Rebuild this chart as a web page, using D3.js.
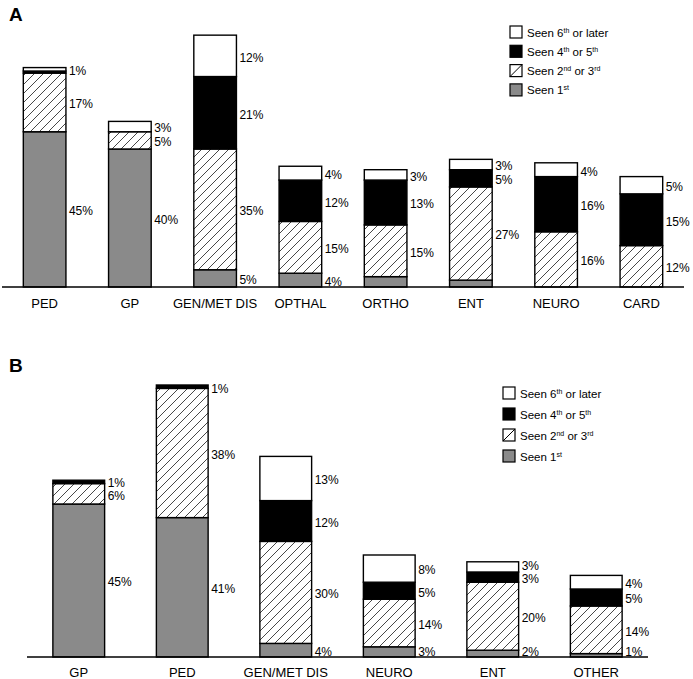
<!DOCTYPE html>
<html><head><meta charset="utf-8">
<script src="https://cdn.jsdelivr.net/npm/d3@7"></script>
<style>body{margin:0;background:#fff;} svg{display:block;font-family:Arial,"Liberation Sans",sans-serif;}</style>
</head><body>
<script>
// Panel A data
const catsA = ["PED","GP","GEN/MET DIS","OPTHAL","ORTHO","ENT","NEURO","CARD"];
const seen1stA   = [45, 40, 5, 4, 3, 2, 0, 0];
const seen2nd3rdA = [17, 5, 35, 15, 15, 27, 16, 12];
const seen4th5thA = [0.6, 0, 21, 12, 13, 5, 16, 15];
const seen6thA   = [1, 3, 12, 4, 3, 3, 4, 5];
const labels1stA = ["45%","40%","5%","4%","","","",""];
const labels2ndA = ["17%","5%","35%","15%","15%","27%","16%","12%"];
const labels4thA = ["","","21%","12%","13%","5%","16%","15%"];
const labels6thA = ["1%","3%","12%","4%","3%","3%","4%","5%"];

// Panel B data
const catsB = ["GP","PED","GEN/MET DIS","NEURO","ENT","OTHER"];
const seen1stB   = [45, 41, 4, 3, 2, 1];
const seen2nd3rdB = [6, 38, 30, 14, 20, 14];
const seen4th5thB = [1, 1, 12, 5, 3, 5];
const seen6thB   = [0, 0, 13, 8, 3, 4];
const labels1stB = ["45%","41%","4%","3%","2%","1%"];
const labels2ndB = ["6%","38%","30%","14%","20%","14%"];
const labels4thB = ["1%","1%","12%","5%","3%","5%"];
const labels6thB = ["","","13%","8%","3%","4%"];

const yMax = 80;

const svg = d3.select("body").append("svg").attr("width",693).attr("height",679);
const defs = svg.append("defs");
const pat = defs.append("pattern").attr("id","hatch").attr("patternUnits","userSpaceOnUse")
  .attr("width",9).attr("height",9);
pat.append("rect").attr("width",9).attr("height",9).attr("fill","#fff");
pat.append("path").attr("d","M0,9 L9,0 M-3,3 L3,-3 M6,12 L12,6")
  .attr("stroke","#333").attr("stroke-width",0.9);

const fills = ["#8a8a8a","url(#hatch)","#000","#fff"];

function panel(cfg){
  const {cats, series, labels, xRange, base, top, letterPos, legendPos, legendPitch, catY} = cfg;
  const x = d3.scaleBand().domain(cats).range(xRange).paddingInner(0.5).paddingOuter(0.25);
  const y = d3.scaleLinear().domain([0,yMax]).range([base, top]);
  const g = svg.append("g");
  cats.forEach((c,i)=>{
    let cum = 0;
    const labs = [];
    series.forEach((s,k)=>{
      const v = s[i];
      if (v <= 0) return;
      const y0 = y(cum), y1 = y(cum+v);
      g.append("rect").attr("x",x(c)).attr("y",y1).attr("width",x.bandwidth()).attr("height",y0-y1)
        .attr("fill",fills[k]).attr("stroke","#000").attr("stroke-width",1.4);
      if (labels[k][i]) labs.push({t:labels[k][i], y:Math.min((y0+y1)/2 + 1.5, base - 5.5)});
      cum += v;
    });
    labs.sort((a,b)=>b.y-a.y); // bottom to top
    for (let j=1;j<labs.length;j++){ if (labs[j-1].y - labs[j].y < 12.5) labs[j].y = labs[j-1].y - 12.5; }
    labs.forEach(l=>{
      g.append("text").attr("x",x(c)+x.bandwidth()+3).attr("y",l.y).attr("dy","0.36em")
        .attr("font-size",12).attr("fill","#000").text(l.t);
    });
  });
  g.append("line").attr("x1",xRange[0]).attr("x2",xRange[1]).attr("y1",base).attr("y2",base)
    .attr("stroke","#000").attr("stroke-width",1.5);
  const ax = d3.axisBottom(x).tickSize(0).tickPadding(0);
  const axg = g.append("g").attr("transform",`translate(0,${catY})`).call(ax);
  axg.select(".domain").remove();
  axg.selectAll("text").attr("font-size",13).attr("font-family","Arial,'Liberation Sans',sans-serif").attr("fill","#000").attr("dy","0.35em").attr("y",0);
  g.append("text").attr("x",letterPos[0]).attr("y",letterPos[1]).attr("font-size",19).attr("font-weight","bold").text(cfg.letter);
  const items = [
    {f:"#fff", parts:[["Seen 6",""],["th","sup"],[" or later",""]]},
    {f:"#000", parts:[["Seen 4",""],["th","sup"],[" or 5",""],["th","sup"]]},
    {f:"hatchbox", parts:[["Seen 2",""],["nd","sup"],[" or 3",""],["rd","sup"]]},
    {f:"#8a8a8a", parts:[["Seen 1",""],["st","sup"]]}
  ];
  items.forEach((it,j)=>{
    const ly = legendPos[1] + j*legendPitch;
    const lg = g.append("g").attr("transform",`translate(${legendPos[0]},${ly})`);
    lg.append("rect").attr("width",12).attr("height",12).attr("fill", it.f==="hatchbox"?"#fff":it.f)
      .attr("stroke","#000").attr("stroke-width",1.2);
    if (it.f==="hatchbox") lg.append("line").attr("x1",0).attr("y1",12).attr("x2",12).attr("y2",0).attr("stroke","#000").attr("stroke-width",1);
    const t = lg.append("text").attr("x",17).attr("y",10.5).attr("font-size",11.5).attr("fill","#000");
    let raised = false;
    it.parts.forEach(p=>{
      if (p[1]==="sup") { t.append("tspan").attr("font-size",7).attr("dy", raised?0:-4).text(p[0]); raised = true; }
      else { t.append("tspan").attr("dy", raised?4:0).text(p[0]); raised = false; }
    });
  });
}

panel({cats:catsA, series:[seen1stA,seen2nd3rdA,seen4th5thA,seen6thA],
  labels:[labels1stA,labels2ndA,labels4thA,labels6thA],
  xRange:[2,684], base:287, top:287-yMax*3.45, letter:"A", letterPos:[9,21],
  legendPos:[510,26], legendPitch:19.3, catY:303});
panel({cats:catsB, series:[seen1stB,seen2nd3rdB,seen4th5thB,seen6thB],
  labels:[labels1stB,labels2ndB,labels4thB,labels6thB],
  xRange:[27,648], base:657, top:657-yMax*3.4, letter:"B", letterPos:[9,372],
  legendPos:[503,387], legendPitch:21, catY:672});
</script>
</body></html>
